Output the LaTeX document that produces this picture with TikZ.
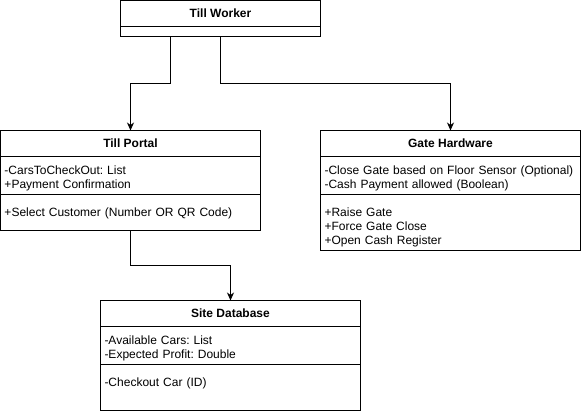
\documentclass[tikz,border=0pt]{standalone}
\usepackage{fontspec}
\setmainfont{Liberation Sans}
\usetikzlibrary{positioning,arrows.meta}
\frenchspacing

\begin{document}
\begin{tikzpicture}[x=1pt, y=1pt, line width=1pt,
    every node/.style = {font=\fontsize{12}{14}\selectfont, outer sep=0pt},
    title/.style      = {draw, font=\fontsize{12}{14}\selectfont\bfseries,
      minimum width=#1, minimum height=26pt, inner sep=0pt},
    attrs/.style      = {draw, text width=252pt, align=left,
      inner xsep=4pt, inner ysep=0pt, text height=18pt, text depth=#1},
    meths/.style      = {attrs=#1, text height=22pt},
    conn/.style       = {-{Stealth[length=8pt,width=7pt,inset=2.5pt]}},
  ]
  \useasboundingbox (0,0) rectangle (581,-414);

  % Till Worker
  \node[title=200pt] (tw-title) at (220.5,-13.5) {Till Worker};
  \node[attrs=0pt, text width=192pt, text height=10pt, below=0pt of tw-title]
    (tw-body) {};

  % Till Portal
  \node[title=260pt] (tp-title) at (130.5,-143.5) {Till Portal};
  \node[attrs=20pt, below=0pt of tp-title] (tp-attr)
    {-CarsToCheckOut: List\\+Payment Confirmation};
  \node[meths=14pt, below=0pt of tp-attr] (tp-meth)
    {+Select Customer (Number OR QR Code)};

  % Gate Hardware
  \node[title=260pt] (gh-title) at (450.5,-143.5) {Gate Hardware};
  \node[attrs=20pt, below=0pt of gh-title] (gh-attr)
    {-Close Gate based on Floor Sensor (Optional)\\-Cash Payment allowed (Boolean)};
  \node[meths=34pt, below=0pt of gh-attr] (gh-meth)
    {+Raise Gate\\+Force Gate Close\\+Open Cash Register};

  % Site Database
  \node[title=260pt] (sd-title) at (230.5,-313.5) {Site Database};
  \node[attrs=20pt, below=0pt of sd-title] (sd-attr)
    {-Available Cars: List\\-Expected Profit: Double};
  \node[meths=24pt, below=0pt of sd-attr] (sd-meth)
    {-Checkout Car (ID)};

  \draw[conn] ([xshift=-50pt]tw-body.south) -- ++(0,-47) -| (tp-title.north);
  \draw[conn] (tw-body.south) -- ++(0,-47) -| (gh-title.north);
  \draw[conn] (tp-meth.south) -- ++(0,-35) -| (sd-title.north);
\end{tikzpicture}
\end{document}
